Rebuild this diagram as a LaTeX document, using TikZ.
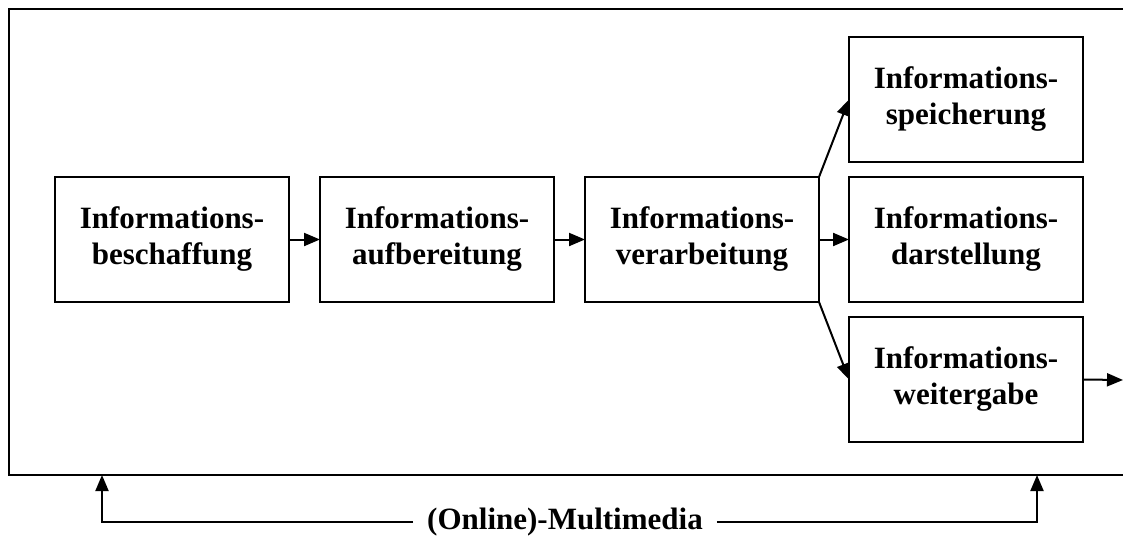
\documentclass[tikz,border=0pt]{standalone}
\usepackage{fontspec}
\setmainfont{Liberation Serif}
\usetikzlibrary{positioning,arrows.meta}
\tikzset{
  infobox/.style={draw,line width=2.2pt,minimum width=234pt,minimum height=125pt,
    outer sep=0pt,inner sep=0pt,align=center,font=\bfseries\fontsize{31}{36}\selectfont},
  pfeil/.style={line width=2pt,-{Triangle[length=16pt,width=13pt]}}
}
\begin{document}
\begin{tikzpicture}[x=1pt,y=-1pt]
                \useasboundingbox (0,0) rectangle (1123,538);
                %% Rahmen (rechte Kante ausserhalb des Bildes)
                \draw[line width=2.2pt] (1123,9) -- (9,9) -- (9,475) -- (1123,475);
                %% Kette
                \node[infobox] (beschaffung) at (172,239.5) {Informations-\\beschaffung};
                \node[infobox,right=31pt of beschaffung] (aufbereitung) {Informations-\\aufbereitung};
                \node[infobox,right=31pt of aufbereitung] (verarbeitung) {Informations-\\verarbeitung};
                \node[infobox,right=30pt of verarbeitung] (darstellung) {Informations-\\darstellung};
                \node[infobox,above=15pt of darstellung] (speicherung) {Informations-\\speicherung};
                \node[infobox,below=15pt of darstellung] (weitergabe) {Informations-\\weitergabe};
                %% Pfeile
                \draw[pfeil] (beschaffung) -- (aufbereitung);
                \draw[pfeil] (aufbereitung) -- (verarbeitung);
                \draw[pfeil] (verarbeitung) -- (darstellung);
                \draw[pfeil] (verarbeitung.north east) -- (speicherung.west);
                \draw[pfeil] (verarbeitung.south east) -- (weitergabe.west);
                \coordinate (rand) at (1123,380);
                \draw[pfeil] (weitergabe.east) -- (rand);
                %% Multimedia
                \coordinate (links) at (102,475);
                \coordinate (rechts) at (1037,475);
                \node[font=\bfseries\fontsize{31}{36}\selectfont,inner sep=14pt] (multimedia) at (565,522) {(Online)-Multimedia};
                \draw[pfeil] (multimedia.west) -| (links);
                \draw[pfeil] (multimedia.east) -| (rechts);
            \end{tikzpicture}
\end{document}
